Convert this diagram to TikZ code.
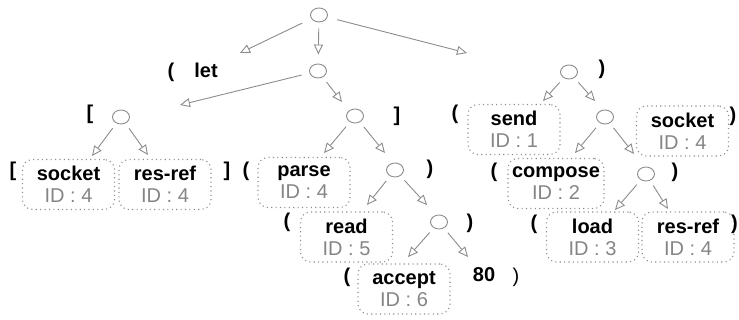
\documentclass[tikz,border=0pt]{standalone}
\usepackage{fontspec}
\setmainfont{Liberation Sans}
\usetikzlibrary{arrows.meta,shapes.geometric}
\definecolor{ln}{HTML}{8C8C8C}
\definecolor{idc}{HTML}{858585}
\tikzset{
  circ/.style={ellipse, draw=ln, line width=0.9pt, minimum width=17pt, minimum height=14pt, inner sep=0pt},
  box/.style={draw=ln, line width=1.1pt, dash pattern=on 1.1pt off 3.3pt, rounded corners=10pt,
    minimum width=92pt, minimum height=50pt, align=center, inner sep=0pt,
    font=\fontsize{20}{22}\selectfont},
  br/.style={font=\fontsize{20}{22}\selectfont\bfseries, anchor=base, inner sep=0pt},
  brr/.style={font=\fontsize{20}{22}\selectfont, anchor=base, inner sep=0pt},
  arr/.style={draw=ln, line width=0.9pt, -{Triangle[open, length=10pt, width=9pt]}, shorten <=6pt},
}
\newcommand{\bx}[4]{\node[box] (#1) at #2 {\textbf{#3}\\\textcolor{idc}{ID : #4}};}
\begin{document}
\begin{tikzpicture}[x=1pt,y=-1pt]
\useasboundingbox (0,0) rectangle (739,320);
% circles
\node[circ] (root) at (319,15) {};
\node[circ] (c2) at (318,71) {};
\node[circ] (cL) at (121,117) {};
\node[circ] (cM) at (355,116) {};
\node[circ] (c4) at (395,170) {};
\node[circ] (c5) at (439,222) {};
\node[circ] (cR) at (569,72) {};
\node[circ] (cR2) at (605,117) {};
\node[circ] (cR3) at (646,174) {};
% boxes
\bx{s1}{(68.5,184.5)}{socket}{4}
\bx{r1}{(165,184.5)}{res-ref}{4}
\bx{parse}{(304,182.5)}{parse}{4}
\bx{read}{(346.5,237)}{read}{5}
\bx{accept}{(404,289)}{accept}{6}
\bx{send}{(514,129.5)}{send}{1}
\bx{s2}{(682.5,131)}{socket}{4}
\node[box, minimum width=96pt] (compose) at (556,183.5) {\textbf{compose}\\\textcolor{idc}{ID : 2}};
\bx{load}{(592.5,237)}{load}{3}
\bx{r2}{(688,237)}{res-ref}{4}
% brackets and words
\node[br] (lp0) at (171,78) {(};
\node[br] (let) at (206,78) {let};
\node[br] (lb1) at (90,120) {[};
\node[br] (lb2) at (13,177) {[};
\node[br] (rb2) at (227,177) {]};
\node[br] (lp3) at (246,177) {(};
\node[br] (rb3) at (397,122) {]};
\node[br] (rp4) at (430,175) {)};
\node[br] (lp5) at (287,228) {(};
\node[br] (rp5) at (470,229) {)};
\node[br] (lp6) at (347,283) {(};
\node[br] (n80) at (484,282) {80};
\node[brr] (rp6) at (516,283) {)};
\node[br] (lp7) at (455,120) {(};
\node[br] (rp7) at (602,75) {)};
\node[br] (rp8) at (733,122) {)};
\node[br] (lp9) at (494,178) {(};
\node[br] (rp9) at (675,178) {)};
\node[br] (lp10) at (534,230) {(};
\node[br] (rp10) at (734.5,230) {)};
% arrow tips
\coordinate (t1) at (240,53);
\coordinate (t3) at (467,53);
\coordinate (t4) at (180,105);
\coordinate (t5) at (342,102);
\coordinate (t6) at (92,156);
\coordinate (t7) at (148,155);
\coordinate (t8) at (324,153);
\coordinate (t9) at (385,153);
\coordinate (t10) at (367,205);
\coordinate (t11) at (427,205);
\coordinate (t12) at (408,257);
\coordinate (t13) at (468,257);
\coordinate (t14) at (543,101);
\coordinate (t15) at (595,101);
\coordinate (t16) at (575,153);
\coordinate (t17) at (634,154);
\coordinate (t18) at (615,210);
\coordinate (t19) at (668,209);
% arrows
\draw[arr, shorten <=10pt] (root) -- (t1);
\draw[arr, shorten >=9pt] (root) -- (c2);
\draw[arr, shorten <=10pt] (root) -- (t3);
\draw[arr, shorten <=8pt] (c2) -- (t4);
\draw[arr] (c2) -- (t5);
\draw[arr] (cL) -- (t6);
\draw[arr] (cL) -- (t7);
\draw[arr] (cM) -- (t8);
\draw[arr] (cM) -- (t9);
\draw[arr] (c4) -- (t10);
\draw[arr] (c4) -- (t11);
\draw[arr] (c5) -- (t12);
\draw[arr] (c5) -- (t13);
\draw[arr] (cR) -- (t14);
\draw[arr] (cR) -- (t15);
\draw[arr] (cR2) -- (t16);
\draw[arr] (cR2) -- (t17);
\draw[arr] (cR3) -- (t18);
\draw[arr] (cR3) -- (t19);
\end{tikzpicture}
\end{document}
